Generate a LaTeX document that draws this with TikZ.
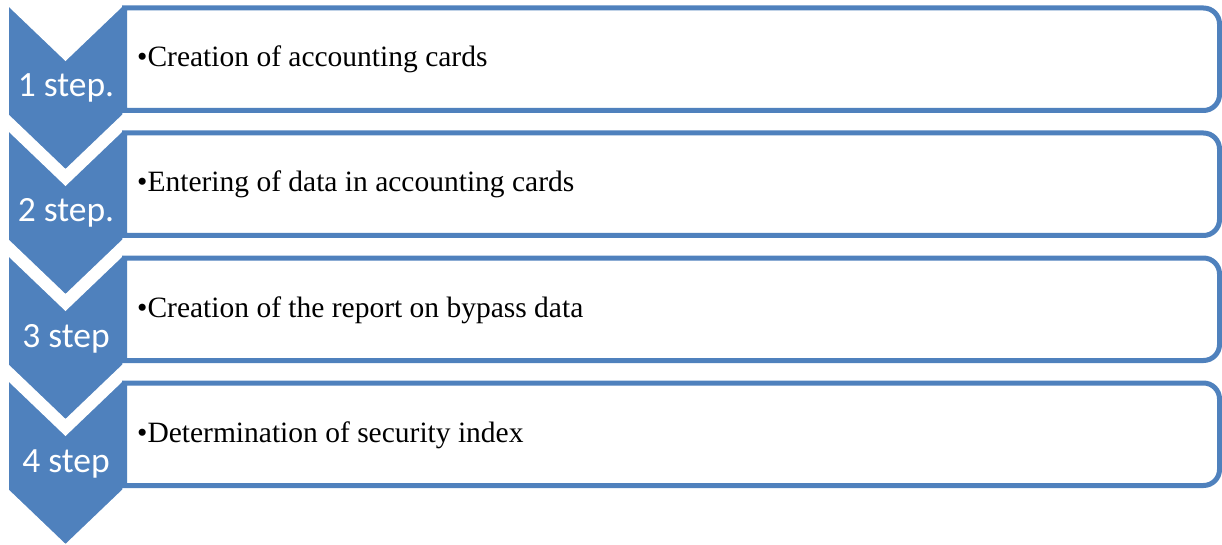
\documentclass[tikz,border=0pt]{standalone}
\usepackage{fontspec}
\setmainfont{Liberation Serif}
\newfontfamily\labelfont{Carlito}
\usepackage{xcolor}
\definecolor{chevblue}{HTML}{4F81BD}
\usetikzlibrary{calc}

\begin{document}
\begin{tikzpicture}[x = 1pt, y = -1pt,
    chevron/.style = {fill = chevblue, draw = white, line width = 1.5pt, line join = miter},
    listbox/.style = {draw = chevblue, line width = 5pt, fill = white},
    chevlabel/.style = {anchor = base, inner sep = 0pt, text = white, font = \labelfont\fontsize{35.5}{40}\selectfont},
    itemtext/.style = {anchor = base west, inner sep = 0pt, font = \fontsize{29.5}{34}\selectfont}]
    \useasboundingbox (0,0) rectangle (1222,545);
    \draw[chevron] (8,5) -- (65.5,60) -- (123,5) -- (123,115) -- (65.5,170) -- (8,115) -- cycle;
    \draw[chevron] (8,130) -- (65.5,185) -- (123,130) -- (123,240) -- (65.5,295) -- (8,240) -- cycle;
    \draw[chevron] (8,255) -- (65.5,310) -- (123,255) -- (123,365) -- (65.5,420) -- (8,365) -- cycle;
    \draw[chevron] (8,380) -- (65.5,435) -- (123,380) -- (123,490) -- (65.5,545) -- (8,490) -- cycle;
    \draw[listbox] (600,8) [rounded corners = 16pt] -- (1219.5,8) -- (1219.5,110.5) -- (600,110.5) [sharp corners] -- (124.5,110.5) -- (124.5,8) -- cycle;
    \draw[listbox] (600,133) [rounded corners = 16pt] -- (1219.5,133) -- (1219.5,235.5) -- (600,235.5) [sharp corners] -- (124.5,235.5) -- (124.5,133) -- cycle;
    \draw[listbox] (600,258) [rounded corners = 16pt] -- (1219.5,258) -- (1219.5,360.5) -- (600,360.5) [sharp corners] -- (124.5,360.5) -- (124.5,258) -- cycle;
    \draw[listbox] (600,383) [rounded corners = 16pt] -- (1219.5,383) -- (1219.5,485.5) -- (600,485.5) [sharp corners] -- (124.5,485.5) -- (124.5,383) -- cycle;
    \node[chevlabel] (s1) at (66,97) {1 step.};
    \node[chevlabel] (s2) at (66,222) {2 step.};
    \node[chevlabel] (s3) at (66,347) {3 step};
    \node[chevlabel] (s4) at (66,472) {4 step};
    \node[itemtext] (t1) at (137,67) {\textbullet Creation of accounting cards};
    \node[itemtext] (t2) at (137,192) {\textbullet Entering of data in accounting cards};
    \node[itemtext] (t3) at (137,317) {\textbullet Creation of the report on bypass data};
    \node[itemtext] (t4) at (137,442) {\textbullet Determination of security index};
\end{tikzpicture}
\end{document}
